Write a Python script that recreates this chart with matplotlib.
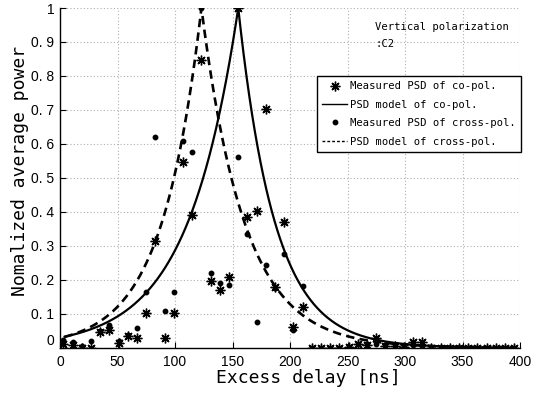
import matplotlib
matplotlib.use("Agg")
import matplotlib.pyplot as plt
import numpy as np
from matplotlib.lines import Line2D
from matplotlib import font_manager

# ---- data ----
delay_ns = [3 + 8 * k for k in range(50)]  # sample delays (8 ns step)

co_measured = [0.011, 0.008, 0.0, 0.0, 0.047, 0.052, 0.013, 0.034, 0.028, 0.103,
               0.315, 0.030, 0.101, 0.547, 0.390, 0.848, 0.197, 0.170, 0.207, 1.0,
               0.385, 0.402, 0.703, 0.180, 0.371, 0.062, 0.119, 0.0, 0.0, 0.0,
               0.0, 0.003, 0.012, 0.008, 0.030, 0.004, 0.005, 0.003, 0.018, 0.018,
               0.0, 0.0, 0.0, 0.0, 0.0, 0.0, 0.0, 0.0, 0.0, 0.0]

cross_measured = [0.022, 0.017, 0.005, 0.020, 0.050, 0.068, 0.020, 0.037, 0.058, 0.165,
                  0.620, 0.108, 0.163, 0.609, 0.577, 1.0, 0.219, 0.190, 0.184, 0.560,
                  0.336, 0.076, 0.243, 0.175, 0.275, 0.052, 0.182, 0.0, 0.0, 0.0,
                  0.0, 0.002, 0.010, 0.010, 0.010, 0.008, 0.005, 0.005, 0.008, 0.005,
                  0.0, 0.0, 0.0, 0.0, 0.0, 0.0, 0.0, 0.0, 0.0, 0.0]

# double-exponential PSD model parameters (peak delay, rise / decay time constants)
co_model_peak, co_model_rise, co_model_decay = 155.0, 44.0, 32.0
cross_model_peak, cross_model_rise, cross_model_decay = 123.0, 34.5, 37.5
model_start, model_end = 4.0, 395.0

x_ticks = [0, 50, 100, 150, 200, 250, 300, 350, 400]
y_ticks = [0, 0.1, 0.2, 0.3, 0.4, 0.5, 0.6, 0.7, 0.8, 0.9, 1.0]
y_tick_labels = ["0", "0. 1", "0. 2", "0. 3", "0. 4", "0. 5", "0. 6", "0. 7", "0. 8", "0. 9", "1"]

legend_labels = ["Measured PSD of co-pol.", "PSD model of co-pol.",
                 "Measured PSD of cross-pol.", "PSD model of cross-pol."]


def psd_model(t, peak, rise, decay):
    return np.where(t <= peak, np.exp((t - peak) / rise), np.exp(-(t - peak) / decay))


t = np.linspace(model_start, model_end, 800)
t = np.sort(np.concatenate([t, [co_model_peak, cross_model_peak]]))
co_model = psd_model(t, co_model_peak, co_model_rise, co_model_decay)
cross_model = psd_model(t, cross_model_peak, cross_model_rise, cross_model_decay)

mono = ["DejaVu Sans Mono"]
available = {f.name for f in font_manager.fontManager.ttflist}
if "Liberation Sans Narrow" in available:
    narrow = ["Liberation Sans Narrow"]
    tick_size = 11
else:
    narrow = ["Liberation Sans", "DejaVu Sans"]
    tick_size = 10

fig = plt.figure(figsize=(5.36, 3.96), dpi=100)
ax = fig.add_axes([60 / 536, (396 - 347.7) / 396, 460 / 536, 339.7 / 396])

star = (8, 2, 0)
ax.plot(delay_ns, co_measured, linestyle="none", marker=star, markersize=7,
        markeredgewidth=1.0, color="black", zorder=4)
ax.plot(t, co_model, "-", color="black", linewidth=1.6, zorder=3)
ax.plot(delay_ns, cross_measured, linestyle="none", marker="o", markersize=3.2,
        color="black", zorder=4)
ax.plot(t, cross_model, color="black", linewidth=1.9, linestyle=(0, (3.2, 2)), zorder=3)

ax.set_xlim(0, 400)
ax.set_ylim(0, 1)
ax.set_xticks(x_ticks)
ax.set_yticks(y_ticks)
ax.set_yticklabels(y_tick_labels)
ax.grid(True, linestyle=(0, (1, 2)), color="#b0b0b0", linewidth=0.8)
ax.set_axisbelow(True)
for s in ["top", "right"]:
    ax.spines[s].set_visible(False)
for s in ["left", "bottom"]:
    ax.spines[s].set_linewidth(1.0)
ax.tick_params(direction="in", length=4, width=0.8, colors="black")
ax.tick_params(axis="x", pad=5)
ax.tick_params(axis="y", pad=4)
for lab in ax.get_xticklabels() + ax.get_yticklabels():
    lab.set_family(narrow)
    lab.set_fontsize(tick_size)
ax.get_yticklabels()[0].set_va("bottom")

ax.set_xlabel("Excess delay [ns]", family=mono, fontsize=13)
ax.xaxis.set_label_coords(0.539, -0.062)
ax.xaxis.label.set_va("top")
ax.set_ylabel("Nomalized average power", family=mono, fontsize=13)
ax.yaxis.set_label_coords(-0.068, 0.52)

ax.text(274, 0.944, "Vertical polarization", family=mono, fontsize=7.6,
        ha="left", va="center")
ax.text(274, 0.893, ":C2", family=mono, fontsize=7.6, ha="left", va="center")

handles = [
    Line2D([], [], linestyle="none", marker=star, markersize=7, markeredgewidth=1.0, color="black"),
    Line2D([], [], linestyle="-", color="black", linewidth=1.0),
    Line2D([], [], linestyle="none", marker="o", markersize=3.2, color="black"),
    Line2D([], [], linestyle=(0, (2, 1.5)), color="black", linewidth=1.0),
]
leg = ax.legend(handles, legend_labels, loc="upper right", bbox_to_anchor=(1.003, 0.80),
                borderaxespad=0, fancybox=False, framealpha=1, edgecolor="black",
                prop={"family": mono, "size": 7.6}, handlelength=2.4,
                handletextpad=0.3, labelspacing=0.8, borderpad=0.5)
leg.get_frame().set_linewidth(1.0)

fig.savefig("out.png", dpi=100)
